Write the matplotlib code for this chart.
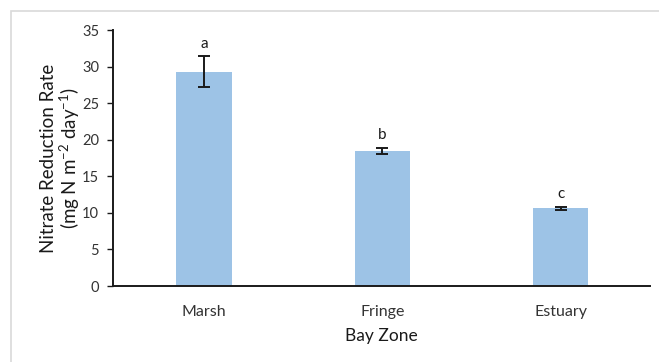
import matplotlib
matplotlib.use("Agg")
import matplotlib.pyplot as plt
from matplotlib.patches import Rectangle

# Nitrate reduction by bay zone
zones = ["Marsh", "Fringe", "Estuary"]
rates = [29.3, 18.5, 10.6]
errors = [2.1, 0.4, 0.25]
letters = ["a", "b", "c"]
yticks = [0, 5, 10, 15, 20, 25, 30, 35]

plt.rcParams["font.family"] = ["Lato", "DejaVu Sans"]
plt.rcParams["mathtext.fontset"] = "custom"
plt.rcParams["mathtext.rm"] = "Lato"
plt.rcParams["mathtext.it"] = "Lato"
plt.rcParams["mathtext.default"] = "rm"

fig = plt.figure(figsize=(6.59, 3.62), dpi=100)
fig.patches.append(Rectangle((11 / 659, -0.1), 1.2, 1 - 11 / 362 + 0.1,
                             transform=fig.transFigure, fill=False,
                             edgecolor="#d9d9d9", linewidth=1.2))

ax = fig.add_axes([113 / 659, 1 - 286 / 362, 537 / 659, 256 / 362])
x = list(range(len(zones)))
ax.bar(x, rates, width=0.31, color="#9dc3e6", zorder=2)
ax.errorbar(x, rates, yerr=errors, fmt="none", ecolor="#1a1a1a",
            elinewidth=1.4, capsize=4, capthick=1.4, zorder=3)
for xi, r, e, lab in zip(x, rates, errors, letters):
    ax.annotate(lab, (xi, r + e), xytext=(0, 4), textcoords="offset points",
                ha="center", va="bottom", fontsize=11, color="#1a1a1a")

ax.set_xlim(-0.51, 2.5)
ax.set_ylim(0, 35)
ax.set_yticks(yticks)
ax.set_xticks(x)
ax.set_xticklabels(zones, fontsize=11.5, color="#333333")
ax.tick_params(axis="x", length=0, pad=14)
ax.tick_params(axis="y", length=4, width=1, labelsize=10.5, colors="#1a1a1a",
               labelcolor="#333333", pad=6)
for s in ["top", "right"]:
    ax.spines[s].set_visible(False)
for s in ["left", "bottom"]:
    ax.spines[s].set_linewidth(1.4)
    ax.spines[s].set_color("#1a1a1a")

ax.set_xlabel("Bay Zone", fontsize=12.5, color="#1a1a1a", labelpad=6)
ax.set_ylabel("Nitrate Reduction Rate\n(mg N m$^{-2}$ day$^{-1}$)",
              fontsize=13.5, color="#1a1a1a", labelpad=0, linespacing=1.05)

fig.savefig("out.png", dpi=100)
